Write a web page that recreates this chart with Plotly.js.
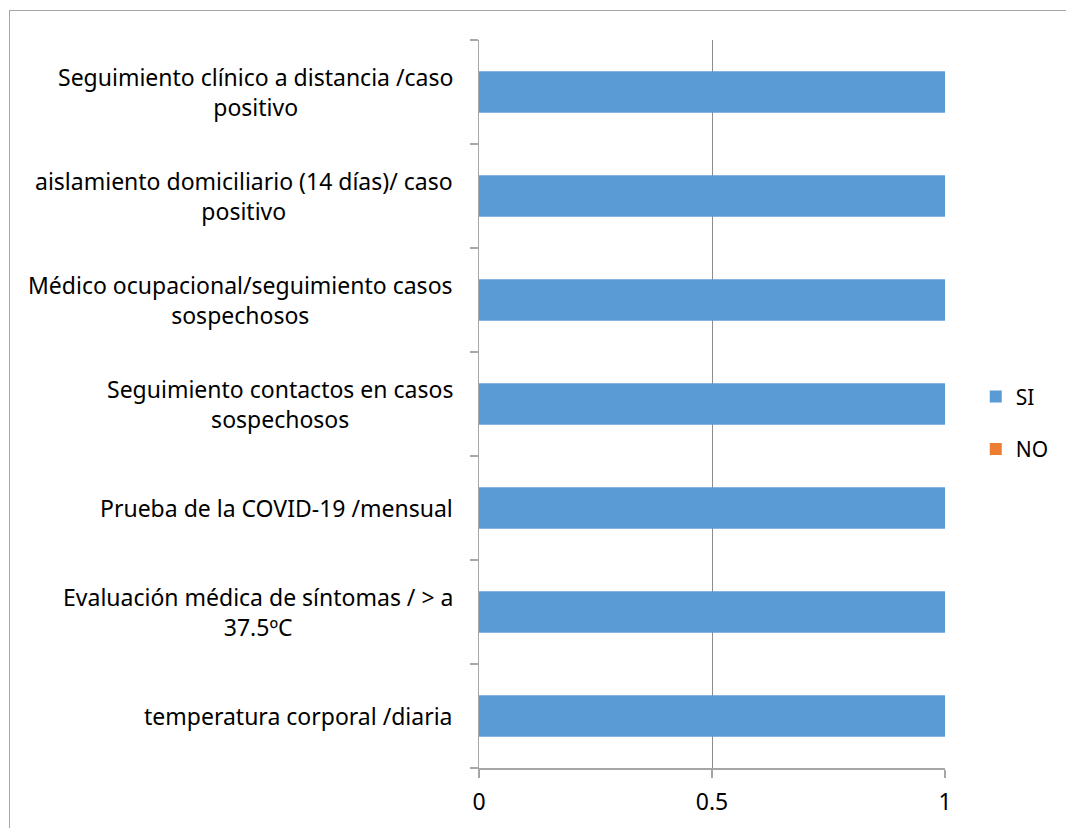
<!DOCTYPE html>
<html>
<head>
<meta charset="utf-8">
<script src="https://cdn.plot.ly/plotly-3.0.1.min.js"></script>
<style>
  html, body { margin: 0; padding: 0; background: #ffffff; }
  #wrap { position: relative; width: 1066px; height: 828px; overflow: hidden; }
  #chart { position: absolute; left: 0; top: 0; width: 1066px; height: 828px; }
  #frame { position: absolute; left: 9px; top: 10px; width: 1100px; height: 900px;
           border: 1.5px solid #a6a6a6; box-sizing: border-box; pointer-events: none; }
</style>
</head>
<body>
<div id="wrap">
  <div id="chart"></div>
  <div id="frame"></div>
</div>
<script>
// Measures, listed bottom to top as they appear on the category axis
const categories = [
  "temperatura corporal /diaria",
  "Evaluación médica de síntomas / > a<br>37.5ºC",
  "Prueba de la COVID-19 /mensual",
  "Seguimiento contactos en casos<br>sospechosos",
  "Médico ocupacional/seguimiento casos<br>sospechosos",
  "aislamiento domiciliario (14 días)/ caso<br>positivo",
  "Seguimiento clínico a distancia /caso<br>positivo"
];
const siValues = [1, 1, 1, 1, 1, 1, 1];
const noValues = [0, 0, 0, 0, 0, 0, 0];
const xTickValues = [0, 0.5, 1];
const xTickLabels = ["0", "0.5", "1"];

const FONT = "Noto Sans, Liberation Sans, Arial, sans-serif";

const traces = [
  { type: "bar", orientation: "h", name: "SI", y: categories, x: siValues,
    marker: { color: "#5B9BD5" }, legendgroup: "si", hoverinfo: "x+y" },
  { type: "bar", orientation: "h", name: "NO", y: categories, x: noValues,
    marker: { color: "#ED7D31" }, legendgroup: "no", hoverinfo: "x+y" }
];

// Category labels: right-aligned block, lines centred within it
const labelAnnotations = categories.map(c => ({
  text: c, xref: "paper", x: 0, xanchor: "right", xshift: -24,
  yref: "y", y: c, yanchor: "middle", align: "center", showarrow: false,
  font: { family: FONT, size: 23, color: "#000000" }
}));

const layout = {
  width: 1066, height: 828,
  margin: { l: 479, r: 119, t: 40, b: 60, pad: 0 },
  paper_bgcolor: "rgba(0,0,0,0)", plot_bgcolor: "#ffffff",
  font: { family: FONT, size: 23, color: "#000000" },
  barmode: "overlay", bargap: 0.6,
  showlegend: true,
  legend: { x: 1.066, xanchor: "left", y: 0.474, yanchor: "middle",
            traceorder: "grouped", tracegroupgap: 22,
            font: { family: FONT, size: 21, color: "#000000" },
            bgcolor: "rgba(0,0,0,0)" },
  xaxis: {
    range: [0, 1], tickmode: "array", tickvals: xTickValues, ticktext: xTickLabels,
    showgrid: true, gridcolor: "#8c8c8c", gridwidth: 1, zeroline: false,
    showline: true, linecolor: "#a6a6a6", linewidth: 1.5,
    ticks: "outside", ticklen: 8, tickcolor: "#a6a6a6", tickwidth: 1.5,
    ticklabelstandoff: 5,
    tickfont: { family: FONT, size: 23, color: "#000000" }, fixedrange: true
  },
  yaxis: {
    type: "category", categoryorder: "array", categoryarray: categories,
    range: [-0.5, categories.length - 0.5],
    showticklabels: false, tickson: "boundaries", ticks: "outside",
    ticklen: 8, tickcolor: "#a6a6a6", tickwidth: 1.5,
    showline: true, linecolor: "#a6a6a6", linewidth: 1.5,
    showgrid: false, zeroline: false, fixedrange: true
  },
  annotations: labelAnnotations
};

Plotly.newPlot("chart", traces, layout, { displayModeBar: false, staticPlot: true });
</script>
</body>
</html>
